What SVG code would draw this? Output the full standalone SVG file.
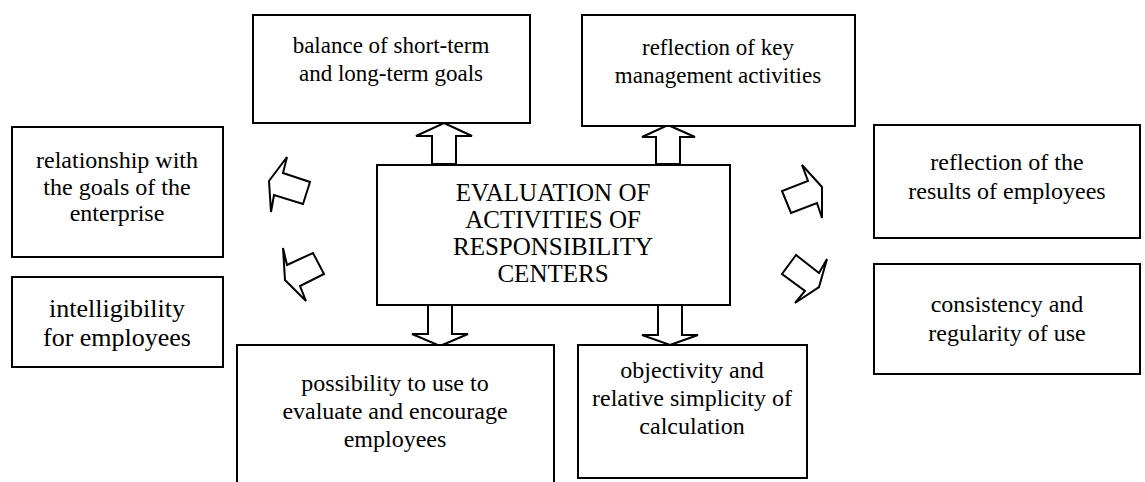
<svg xmlns="http://www.w3.org/2000/svg" width="1145" height="482" viewBox="0 0 1145 482">
<style>
.box{fill:#fff;stroke:#000;stroke-width:2}
.arr{fill:#fff;stroke:#000;stroke-width:2;stroke-linejoin:miter}
text{font-family:"Liberation Serif","Times New Roman",serif;fill:#000;text-anchor:middle}
.t23{font-size:23px}
.t24{font-size:24px}
.t25{font-size:25px}
.t26{font-size:26px}
</style>
<rect width="1145" height="482" fill="#fff"/>
<g id="connectors">
<polygon class="arr" points="444,123 472,136 456,136 456,164 432,164 432,136 416,136"/>
<polygon class="arr" points="668,125 695,137 680,137 680,164 656,164 656,137 642,137"/>
<polygon class="arr" points="440,346 468,334 452,334 452,305 428,305 428,334 412,334"/>
<polygon class="arr" points="670,345 698,335 682,335 682,305 658,305 658,335 642,335"/>
<polygon class="arr" points="269,181 287,157 283,173 310,182 303,204 274,195 271,212"/>
<polygon class="arr" points="285,280 306,301 300,286 324,274 313,253 287,265 283,248"/>
<polygon class="arr" points="782,191 791,213 817,203 822,218 822,187 802,165 808,181"/>
<polygon class="arr" points="796,255 782,274 805,291 795,303 819,287 827,259 819,273"/>
</g>
<g id="center">
<rect class="box" x="377" y="165" width="353" height="140"/>
<text class="t25" x="553" y="201">EVALUATION OF</text>
<text class="t25" x="553" y="228">ACTIVITIES OF</text>
<text class="t25" x="553" y="255">RESPONSIBILITY</text>
<text class="t25" x="553" y="282">CENTERS</text>
</g>
<g id="balance">
<rect class="box" x="253" y="15" width="277" height="108"/>
<text class="t23" x="391" y="53">balance of short-term</text>
<text class="t23" x="391" y="81">and long-term goals</text>
</g>
<g id="reflection-key">
<rect class="box" x="582" y="15" width="273" height="111"/>
<text class="t23" x="718" y="55">reflection of key</text>
<text class="t23" x="718" y="83">management activities</text>
</g>
<g id="relationship">
<rect class="box" x="12" y="127" width="211" height="130"/>
<text class="t24" x="117" y="168">relationship with</text>
<text class="t24" x="117" y="195">the goals of the</text>
<text class="t24" x="117" y="221">enterprise</text>
</g>
<g id="intelligibility">
<rect class="box" x="12" y="277" width="211" height="90"/>
<text class="t26" x="117" y="317">intelligibility</text>
<text class="t26" x="117" y="346">for employees</text>
</g>
<g id="reflection-results">
<rect class="box" x="874" y="125" width="266" height="113"/>
<text class="t24" x="1007" y="170">reflection of the</text>
<text class="t24" x="1007" y="199">results of employees</text>
</g>
<g id="consistency">
<rect class="box" x="874" y="264" width="266" height="110"/>
<text class="t24" x="1007" y="312">consistency and</text>
<text class="t24" x="1007" y="341">regularity of use</text>
</g>
<g id="possibility">
<rect class="box" x="237" y="345" width="317" height="150"/>
<text class="t24" x="395" y="391">possibility to use to</text>
<text class="t24" x="395" y="419">evaluate and encourage</text>
<text class="t24" x="395" y="447">employees</text>
</g>
<g id="objectivity">
<rect class="box" x="578" y="345" width="229" height="133"/>
<text class="t24" x="692" y="378">objectivity and</text>
<text class="t24" x="692" y="406">relative simplicity of</text>
<text class="t24" x="692" y="434">calculation</text>
</g>
</svg>
